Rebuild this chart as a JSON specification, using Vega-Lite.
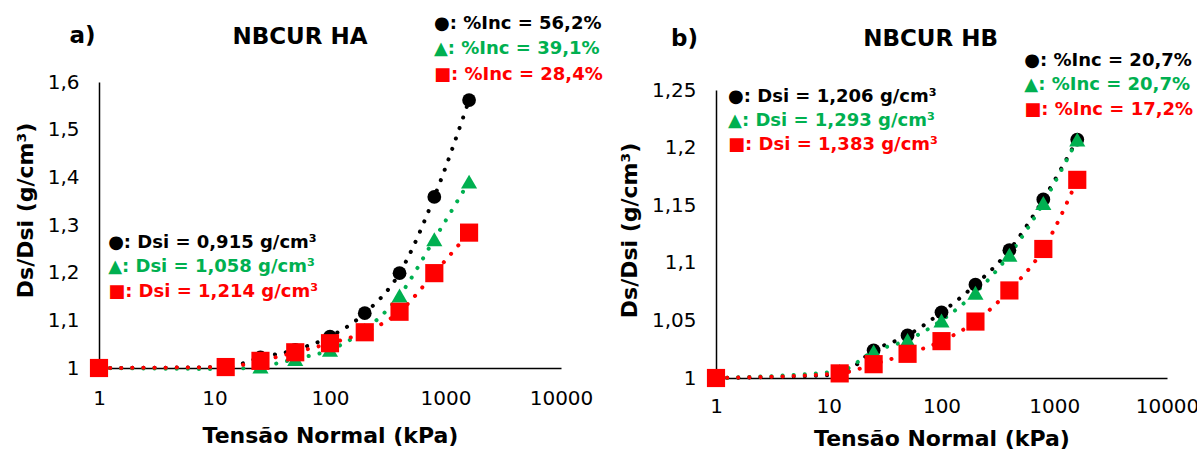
{
  "$schema": "https://vega.github.io/schema/vega-lite/v6.json",
  "autosize": {"type": "pad"},
  "padding": {"left": 14, "top": 15, "right": 0, "bottom": 0},
  "bounds": "flush",
  "spacing": 155,
  "config": {
    "view": {"stroke": null},
    "font": "DejaVu Sans",
    "axis": {
      "domainColor": "#000000",
      "domainWidth": 1.5,
      "ticks": false,
      "tickSize": 0,
      "grid": false,
      "labelFont": "DejaVu Sans",
      "labelFontSize": 20,
      "labelColor": "#000000",
      "labelPadding": 20,
      "labelFlush": false,
      "labelOverlap": false,
      "titleFont": "DejaVu Sans",
      "titleFontSize": 22,
      "titleFontWeight": "bold",
      "titleColor": "#000000"
    },
    "axisY": {"titlePadding": 10},
    "axisX": {"titlePadding": 17}
  },
  "datasets": {
    "ha": [
      {"tensao": 1, "ds": 1.0, "serie": "1"},
      {"tensao": 12.5, "ds": 1.002, "serie": "1"},
      {"tensao": 25, "ds": 1.022, "serie": "1"},
      {"tensao": 50, "ds": 1.038, "serie": "1"},
      {"tensao": 100, "ds": 1.066, "serie": "1"},
      {"tensao": 200, "ds": 1.115, "serie": "1"},
      {"tensao": 400, "ds": 1.199, "serie": "1"},
      {"tensao": 800, "ds": 1.359, "serie": "1"},
      {"tensao": 1600, "ds": 1.562, "serie": "1"},
      {"tensao": 1, "ds": 1.0, "serie": "2"},
      {"tensao": 12.5, "ds": 0.998, "serie": "2"},
      {"tensao": 25, "ds": 1.003, "serie": "2"},
      {"tensao": 50, "ds": 1.019, "serie": "2"},
      {"tensao": 100, "ds": 1.038, "serie": "2"},
      {"tensao": 200, "ds": 1.08, "serie": "2"},
      {"tensao": 400, "ds": 1.152, "serie": "2"},
      {"tensao": 800, "ds": 1.27, "serie": "2"},
      {"tensao": 1600, "ds": 1.391, "serie": "2"},
      {"tensao": 1, "ds": 1.0, "serie": "3"},
      {"tensao": 12.5, "ds": 1.002, "serie": "3"},
      {"tensao": 25, "ds": 1.015, "serie": "3"},
      {"tensao": 50, "ds": 1.033, "serie": "3"},
      {"tensao": 100, "ds": 1.052, "serie": "3"},
      {"tensao": 200, "ds": 1.075, "serie": "3"},
      {"tensao": 400, "ds": 1.118, "serie": "3"},
      {"tensao": 800, "ds": 1.199, "serie": "3"},
      {"tensao": 1600, "ds": 1.284, "serie": "3"}
    ],
    "hb": [
      {"tensao": 1, "ds": 1.0, "serie": "1"},
      {"tensao": 12.5, "ds": 1.003, "serie": "1"},
      {"tensao": 25, "ds": 1.024, "serie": "1"},
      {"tensao": 50, "ds": 1.037, "serie": "1"},
      {"tensao": 100, "ds": 1.057, "serie": "1"},
      {"tensao": 200, "ds": 1.081, "serie": "1"},
      {"tensao": 400, "ds": 1.111, "serie": "1"},
      {"tensao": 800, "ds": 1.155, "serie": "1"},
      {"tensao": 1600, "ds": 1.207, "serie": "1"},
      {"tensao": 1, "ds": 1.0, "serie": "2"},
      {"tensao": 12.5, "ds": 1.006, "serie": "2"},
      {"tensao": 25, "ds": 1.023, "serie": "2"},
      {"tensao": 50, "ds": 1.033, "serie": "2"},
      {"tensao": 100, "ds": 1.05, "serie": "2"},
      {"tensao": 200, "ds": 1.074, "serie": "2"},
      {"tensao": 400, "ds": 1.107, "serie": "2"},
      {"tensao": 800, "ds": 1.152, "serie": "2"},
      {"tensao": 1600, "ds": 1.207, "serie": "2"},
      {"tensao": 1, "ds": 1.0, "serie": "3"},
      {"tensao": 12.5, "ds": 1.004, "serie": "3"},
      {"tensao": 25, "ds": 1.012, "serie": "3"},
      {"tensao": 50, "ds": 1.021, "serie": "3"},
      {"tensao": 100, "ds": 1.032, "serie": "3"},
      {"tensao": 200, "ds": 1.049, "serie": "3"},
      {"tensao": 400, "ds": 1.076, "serie": "3"},
      {"tensao": 800, "ds": 1.112, "serie": "3"},
      {"tensao": 1600, "ds": 1.172, "serie": "3"}
    ],
    "ha_notas": [
      {"txt": "●: %Inc = 56,2%", "tensao": 795, "ds": 1.711, "serie": "1"},
      {"txt": "▲: %Inc = 39,1%", "tensao": 795, "ds": 1.659, "serie": "2"},
      {"txt": "■: %Inc = 28,4%", "tensao": 795, "ds": 1.604, "serie": "3"},
      {"txt": "●: Dsi = 0,915 g/cm³", "tensao": 1.2, "ds": 1.252, "serie": "1"},
      {"txt": "▲: Dsi = 1,058 g/cm³", "tensao": 1.2, "ds": 1.201, "serie": "2"},
      {"txt": "■: Dsi = 1,214 g/cm³", "tensao": 1.2, "ds": 1.149, "serie": "3"}
    ],
    "hb_notas": [
      {"txt": "●: %Inc = 20,7%", "tensao": 543, "ds": 1.2708, "serie": "1"},
      {"txt": "▲: %Inc = 20,7%", "tensao": 543, "ds": 1.25, "serie": "2"},
      {"txt": "■: %Inc = 17,2%", "tensao": 543, "ds": 1.2283, "serie": "3"},
      {"txt": "●: Dsi = 1,206 g/cm³", "tensao": 1.28, "ds": 1.2396, "serie": "1"},
      {"txt": "▲: Dsi = 1,293 g/cm³", "tensao": 1.28, "ds": 1.2188, "serie": "2"},
      {"txt": "■: Dsi = 1,383 g/cm³", "tensao": 1.28, "ds": 1.1979, "serie": "3"}
    ],
    "ha_titulos": [
      {"txt": "a)", "tensao": 0.72, "ds": 1.682},
      {"txt": "NBCUR HA", "tensao": 55, "ds": 1.68}
    ],
    "hb_titulos": [
      {"txt": "b)", "tensao": 0.526, "ds": 1.2882},
      {"txt": "NBCUR HB", "tensao": 80, "ds": 1.2882}
    ]
  },
  "hconcat": [
    {
      "width": 462,
      "height": 286,
      "encoding": {
        "x": {"field": "tensao", "type": "quantitative", "scale": {"type": "log", "domain": [1, 10000], "nice": false}, "axis": {"values": [1, 10, 100, 1000, 10000], "format": "d", "title": "Tensão Normal (kPa)"}},
        "y": {"field": "ds", "type": "quantitative", "scale": {"domain": [1, 1.6], "nice": false, "zero": false}, "axis": {"values": [1, 1.1, 1.2, 1.3, 1.4, 1.5, 1.6], "labelExpr": "replace(format(datum.value, '.2~f'), '.', ',')", "title": "Ds/Dsi (g/cm³)", "titleY": 128}}
      },
      "layer": [
        {
          "data": {"name": "ha"},
          "mark": {"type": "line", "interpolate": "monotone", "strokeWidth": 4, "strokeDash": [0.1, 11], "strokeCap": "round"},
          "encoding": {"color": {"field": "serie", "type": "nominal", "scale": {"domain": ["1", "2", "3"], "range": ["#000000", "#00B050", "#FF0000"]}, "legend": null}}
        },
        {
          "data": {"name": "ha"},
          "mark": {"type": "point", "filled": true, "opacity": 1},
          "encoding": {
            "color": {"field": "serie", "type": "nominal", "legend": null},
            "shape": {"field": "serie", "type": "nominal", "scale": {"domain": ["1", "2", "3"], "range": ["circle", "triangle-up", "square"]}, "legend": null},
            "size": {"field": "serie", "type": "ordinal", "scale": {"domain": ["1", "2", "3"], "range": [190, 330, 225]}, "legend": null}
          }
        },
        {
          "data": {"name": "ha_notas"},
          "mark": {"type": "text", "align": "left", "baseline": "alphabetic", "font": "DejaVu Sans", "fontSize": 18, "fontWeight": "bold"},
          "encoding": {
            "text": {"field": "txt"},
            "color": {"field": "serie", "type": "nominal", "legend": null}
          }
        },
        {
          "data": {"name": "ha_titulos"},
          "mark": {"type": "text", "align": "center", "baseline": "alphabetic", "font": "DejaVu Sans", "fontSize": 23, "fontWeight": "bold", "color": "#000000"},
          "encoding": {"text": {"field": "txt"}}
        }
      ]
    },
    {
      "bounds": "flush",
      "spacing": 7,
      "vconcat": [
        {
          "width": 451,
          "height": 1,
          "data": {"values": [{}]},
          "mark": {"type": "point", "opacity": 0},
          "encoding": {}
        },
        {
          "width": 451,
          "height": 288,
          "encoding": {
            "x": {"field": "tensao", "type": "quantitative", "scale": {"type": "log", "domain": [1, 10000], "nice": false}, "axis": {"values": [1, 10, 100, 1000, 10000], "format": "d", "title": "Tensão Normal (kPa)", "labelPadding": 18, "titlePadding": 12}},
            "y": {"field": "ds", "type": "quantitative", "scale": {"domain": [1, 1.25], "nice": false, "zero": false}, "axis": {"values": [1, 1.05, 1.1, 1.15, 1.2, 1.25], "labelExpr": "replace(format(datum.value, '.2~f'), '.', ',')", "title": "Ds/Dsi (g/cm³)", "titleY": 140}}
          },
          "layer": [
            {
              "data": {"name": "hb"},
              "mark": {"type": "line", "interpolate": "monotone", "strokeWidth": 4, "strokeDash": [0.1, 11], "strokeCap": "round"},
              "encoding": {"color": {"field": "serie", "type": "nominal", "scale": {"domain": ["1", "2", "3"], "range": ["#000000", "#00B050", "#FF0000"]}, "legend": null}}
            },
            {
              "data": {"name": "hb"},
              "mark": {"type": "point", "filled": true, "opacity": 1},
              "encoding": {
                "color": {"field": "serie", "type": "nominal", "legend": null},
                "shape": {"field": "serie", "type": "nominal", "scale": {"domain": ["1", "2", "3"], "range": ["circle", "triangle-up", "square"]}, "legend": null},
                "size": {"field": "serie", "type": "ordinal", "scale": {"domain": ["1", "2", "3"], "range": [190, 330, 225]}, "legend": null}
              }
            },
            {
              "data": {"name": "hb_notas"},
              "mark": {"type": "text", "align": "left", "baseline": "alphabetic", "font": "DejaVu Sans", "fontSize": 18, "fontWeight": "bold"},
              "encoding": {
                "text": {"field": "txt"},
                "color": {"field": "serie", "type": "nominal", "legend": null}
              }
            },
            {
              "data": {"name": "hb_titulos"},
              "mark": {"type": "text", "align": "center", "baseline": "alphabetic", "font": "DejaVu Sans", "fontSize": 23, "fontWeight": "bold", "color": "#000000"},
              "encoding": {"text": {"field": "txt"}}
            }
          ]
        }
      ]
    }
  ]
}
